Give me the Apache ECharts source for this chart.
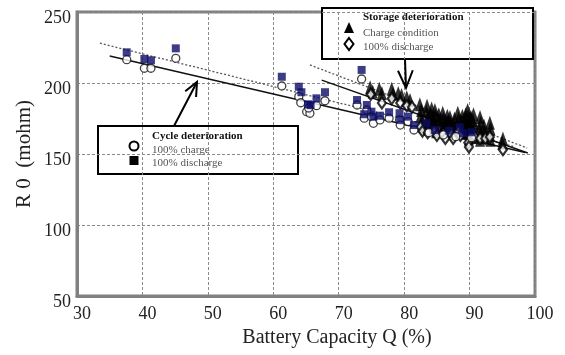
<!DOCTYPE html>
<html>
<head>
<meta charset="utf-8">
<script src="https://cdn.jsdelivr.net/npm/echarts@6/dist/echarts.min.js"></script>
<style>
  html, body { margin: 0; padding: 0; background: #fff; }
  #chart { width: 565px; height: 355px; }
</style>
</head>
<body>
<div id="chart"></div>
<script>
// Axis ticks
const xTicks = [30, 40, 50, 60, 70, 80, 90, 100];
const yTicks = [50, 100, 150, 200, 250];

// Cycle deterioration, 100% charge  [capacity %, R0 mohm]
const cycleCharge = [
  [37.6, 216.4], [40.3, 210.4], [41.3, 210.4], [45.1, 217.4],
  [61.3, 197.9], [63.9, 190.4], [64.2, 186.1], [65.1, 179.8], [65.6, 178.7], [65.4, 182.4],
  [66.6, 184.0], [67.9, 187.5],
  [73.5, 202.8], [72.8, 184.5], [74.3, 181.0], [73.9, 175.2], [75.0, 176.3], [75.3, 171.6],
  [76.3, 174.0], [77.7, 175.2], [79.3, 174.0], [79.4, 170.4], [80.6, 172.8], [81.5, 166.9],
  [83.8, 165.0], [86.0, 163.4], [87.9, 162.2], [90.3, 161.5]
];

// Cycle deterioration, 100% discharge
const cycleDischarge = [
  [37.6, 221.6], [40.3, 216.9], [41.3, 216.0], [45.1, 224.4],
  [61.3, 204.4], [63.9, 197.4], [64.3, 193.5], [65.3, 185.0], [65.7, 184.5], [66.6, 189.2],
  [67.9, 193.5],
  [73.5, 209.2], [72.8, 188.0], [74.3, 184.5], [73.9, 178.0], [75.0, 179.8], [75.3, 176.3],
  [76.3, 177.0], [77.7, 179.4], [79.3, 178.7], [79.4, 174.0], [80.6, 176.3], [81.5, 170.4],
  [83.4, 171.6], [84.7, 166.9], [86.9, 166.4], [88.5, 168.8], [89.0, 164.6], [90.3, 165.3]
];

// Storage deterioration, charge condition
const storageCharge = [
  [74.8, 197], [75.2, 194], [76.2, 196], [76.6, 193], [78.1, 196], [78.3, 192.5],
  [79.1, 193], [79.6, 191.5], [80.4, 190], [80.9, 188],
  [82.4, 185], [82.6, 181], [82.5, 177], [82.7, 173], [82.9, 170],
  [83.5, 184], [83.4, 180], [83.6, 176], [83.5, 172], [83.4, 168],
  [84.2, 182], [84.1, 178], [84.3, 174], [84.2, 170],
  [84.7, 181], [84.8, 177], [84.6, 173], [84.8, 169], [84.9, 166],
  [85.3, 178], [85.4, 174], [85.3, 170],
  [85.9, 179], [86.0, 175], [86.1, 171], [85.9, 167],
  [86.6, 177], [86.7, 173], [86.5, 169],
  [87.0, 176], [87.1, 172], [87.2, 168],
  [87.7, 175], [87.6, 171], [87.8, 167],
  [88.2, 179], [88.3, 175], [88.1, 171], [88.4, 167],
  [88.9, 177], [88.8, 173], [88.9, 169], [89.0, 165],
  [89.4, 178], [89.3, 174], [89.5, 170], [89.4, 166],
  [89.7, 181], [89.8, 177], [89.9, 173], [89.7, 169], [89.8, 165], [89.9, 161],
  [90.2, 176], [90.1, 172], [90.3, 168], [90.2, 164],
  [90.6, 178], [90.5, 174], [90.7, 170], [90.5, 166], [90.6, 162],
  [91.6, 176], [91.7, 172], [91.5, 168], [91.7, 164], [91.6, 160],
  [92.2, 170], [92.3, 166], [92.2, 162],
  [93.1, 172], [93.2, 168], [93.1, 164], [93.2, 160],
  [95.1, 161], [95.0, 158]
];

// Storage deterioration, 100% discharge
const storageDischarge = [
  [74.9, 192], [76.6, 186], [78.1, 189], [79.4, 186], [80.4, 184], [81.2, 183],
  [82.5, 169], [82.8, 166], [83.6, 165], [84.6, 166], [85.0, 163],
  [86.0, 164], [86.3, 161], [87.2, 164], [87.5, 161], [88.3, 166], [88.6, 163],
  [89.8, 158], [89.9, 155], [90.8, 162], [91.6, 161], [92.4, 161], [93.1, 162],
  [95.1, 153]
];

// Fitted trend lines (end points)
const cycleChargeFit = [[35, 219], [98.5, 151]];
const cycleDischargeFit = [[33.5, 228], [97, 155]];
const storageChargeFit = [[65.6, 212.7], [98.8, 154.2]];
const storageDischargeFit = [[67.4, 202], [98.9, 150.7]];

const serif = "'Liberation Serif', 'Times New Roman', serif";
const chart = echarts.init(document.getElementById('chart'));

function fitLine(data, dashed) {
  return {
    type: 'line', data: data, symbol: 'none', silent: true, z: 3,
    lineStyle: dashed
      ? { color: '#555', width: 1.3, type: [2, 2] }
      : { color: '#111', width: 1.5 }
  };
}

function arrowHead(tip, tail, len, ang) {
  const dx = tail[0] - tip[0], dy = tail[1] - tip[1];
  const d = Math.hypot(dx, dy), ux = dx / d, uy = dy / d;
  const c = Math.cos(ang), s = Math.sin(ang);
  const a = [tip[0] + len * (ux * c - uy * s), tip[1] + len * (ux * s + uy * c)];
  const b = [tip[0] + len * (ux * c + uy * s), tip[1] + len * (-ux * s + uy * c)];
  return [a, tip, b];
}

const arrowStyle = { stroke: '#000', lineWidth: 2, fill: null };
const cycTip = [197, 82], cycTail = [174, 126];
const stoTip = [406, 88], stoTail = [405, 59];

chart.setOption({
  animation: false,
  backgroundColor: '#fff',
  grid: { left: 77, top: 12, right: 30, bottom: 59, show: true, borderColor: '#808080', borderWidth: 3 },
  xAxis: {
    type: 'value', min: xTicks[0], max: xTicks[xTicks.length - 1], interval: 10,
    name: 'Battery Capacity Q (%)', nameLocation: 'middle', nameGap: 31,
    nameTextStyle: { fontFamily: serif, fontSize: 20, color: '#222', padding: [0, 0, 0, 62] },
    axisLine: { lineStyle: { color: '#808080', width: 3 } },
    axisTick: { show: false },
    axisLabel: { fontFamily: serif, fontSize: 18, color: '#222', margin: 9, padding: [0, 0, 0, 10] },
    splitLine: { lineStyle: { color: '#8a8a8a', width: 1, type: [3, 2] } }
  },
  yAxis: {
    type: 'value', min: yTicks[0], max: yTicks[yTicks.length - 1], interval: 50,
    name: 'R 0  (mohm)', nameLocation: 'middle', nameGap: 42, nameMoveOverlap: false,
    nameTextStyle: { fontFamily: serif, fontSize: 21, color: '#222' },
    axisLine: { show: true, lineStyle: { color: '#808080', width: 3 } },
    axisTick: { show: false },
    axisLabel: { fontFamily: serif, fontSize: 18, color: '#222', margin: 6, verticalAlign: 'top', lineHeight: 12 },
    splitLine: { lineStyle: { color: '#8a8a8a', width: 1, type: [3, 2] } }
  },
  series: [
    fitLine(cycleChargeFit, false),
    fitLine(cycleDischargeFit, true),
    fitLine(storageChargeFit, true),
    fitLine(storageDischargeFit, false),
    {
      name: 'Charge condition', type: 'scatter', data: storageCharge, z: 4,
      symbol: 'triangle', symbolSize: [10, 14],
      itemStyle: { color: '#000' }
    },
    {
      name: '100% discharge (storage)', type: 'scatter', data: storageDischarge, z: 5,
      symbol: 'diamond', symbolSize: [8, 11],
      itemStyle: { color: '#fff', borderColor: '#000', borderWidth: 2.2 }
    },
    {
      name: '100% charge', type: 'scatter', data: cycleCharge, z: 6,
      symbol: 'circle', symbolSize: 8,
      itemStyle: { color: '#fff', borderColor: '#111', borderWidth: 1.3 }
    },
    {
      name: '100% discharge', type: 'scatter', data: cycleDischarge, z: 7,
      symbol: 'rect', symbolSize: 8,
      itemStyle: { color: '#0c0c68' }
    }
  ],
  graphic: [
    // arrows
    { type: 'polyline', z: 20, shape: { points: [cycTail, cycTip] }, style: arrowStyle },
    { type: 'polyline', z: 20, shape: { points: arrowHead(cycTip, cycTail, 15, 0.42) }, style: arrowStyle },
    { type: 'polyline', z: 20, shape: { points: [stoTail, stoTip] }, style: arrowStyle },
    { type: 'polyline', z: 20, shape: { points: arrowHead(stoTip, stoTail, 19, 0.4) }, style: arrowStyle },
    // cycle deterioration key
    {
      type: 'group', z: 30, children: [
        { type: 'rect', shape: { x: 98, y: 126, width: 200, height: 48 }, style: { fill: '#fff', stroke: '#000', lineWidth: 2 } },
        { type: 'text', x: 152, y: 136, style: { text: 'Cycle deterioration', font: 'bold 11px ' + serif, fill: '#111', verticalAlign: 'middle' } },
        { type: 'text', x: 152, y: 150, style: { text: '100% charge', font: '11px ' + serif, fill: '#555', verticalAlign: 'middle' } },
        { type: 'text', x: 152, y: 163, style: { text: '100% discharge', font: '11px ' + serif, fill: '#555', verticalAlign: 'middle' } },
        { type: 'circle', shape: { cx: 134, cy: 146, r: 4.5 }, style: { fill: '#fff', stroke: '#000', lineWidth: 2 } },
        { type: 'rect', shape: { x: 129.5, y: 156, width: 9, height: 9 }, style: { fill: '#000' } }
      ]
    },
    // storage deterioration key
    {
      type: 'group', z: 30, children: [
        { type: 'rect', shape: { x: 322, y: 8, width: 211, height: 51 }, style: { fill: '#fff', stroke: '#000', lineWidth: 2 } },
        { type: 'text', x: 363, y: 17, style: { text: 'Storage deterioration', font: 'bold 11px ' + serif, fill: '#111', verticalAlign: 'middle' } },
        { type: 'text', x: 363, y: 33, style: { text: 'Charge condition', font: '11px ' + serif, fill: '#555', verticalAlign: 'middle' } },
        { type: 'text', x: 363, y: 47, style: { text: '100% discharge', font: '11px ' + serif, fill: '#555', verticalAlign: 'middle' } },
        { type: 'polygon', shape: { points: [[344, 33], [354, 33], [349, 22]] }, style: { fill: '#000' } },
        { type: 'polygon', shape: { points: [[349, 38], [353.5, 44], [349, 50], [344.5, 44]] }, style: { fill: '#fff', stroke: '#000', lineWidth: 2 } }
      ]
    }
  ]
});
</script>
</body>
</html>
